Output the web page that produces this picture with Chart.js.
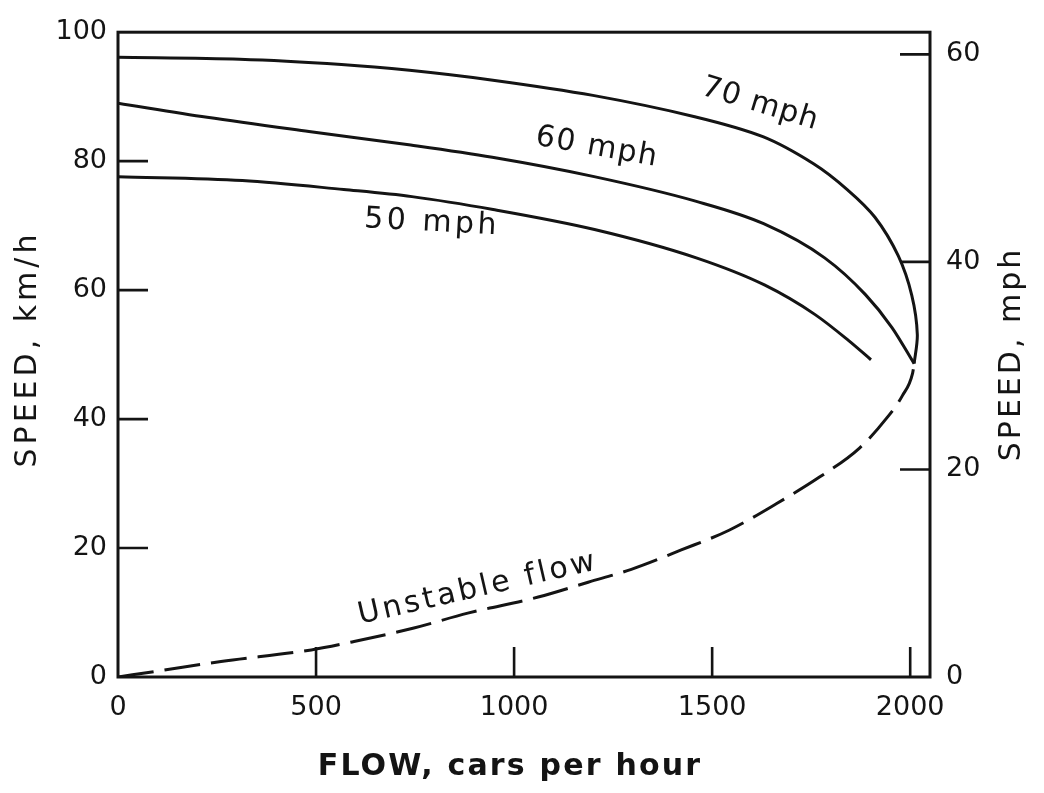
<!DOCTYPE html>
<html>
<head>
<meta charset="utf-8">
<script src="https://cdn.jsdelivr.net/npm/chart.js@4.4.0/dist/chart.umd.min.js"></script>
<style>
  body { margin: 0; background: #fff; }
  #wrap { width: 1044px; height: 793px; }
</style>
</head>
<body>
<div id="wrap"><canvas id="flow-chart"></canvas></div>
<script>
// speed-flow curves: flow in cars per hour, speed in km/h
let flow70 = [0, 307, 564, 736, 942, 1199, 1456, 1628, 1756, 1841, 1911, 1970, 2004, 2018, 2010];
let speed70 = [96.1, 95.8, 95.0, 94.1, 92.6, 90.2, 86.9, 83.8, 79.6, 75.6, 71.3, 65.3, 59.2, 53.1, 48.6];

let flow60 = [0, 225, 482, 739, 945, 1202, 1458, 1630, 1784, 1887, 1954, 2010];
let speed60 = [89.0, 86.8, 84.6, 82.5, 80.6, 77.6, 73.8, 70.3, 65.0, 59.3, 54.2, 48.6];

let flow50 = [0, 314, 570, 742, 947, 1203, 1460, 1632, 1760, 1844, 1901];
let speed50 = [77.6, 77.0, 75.6, 74.5, 72.5, 69.4, 65.0, 60.8, 56.2, 52.2, 49.2];

let flowUnstable = [0, 109, 260, 488, 596, 747, 883, 1061, 1187, 1296, 1422, 1544, 1663, 1771, 1872, 1940, 1980, 2006, 2010];
let speedUnstable = [0, 1.0, 2.4, 4.2, 5.5, 7.6, 9.9, 12.4, 14.7, 16.7, 19.7, 22.8, 26.9, 31.0, 35.5, 40.1, 43.6, 47.1, 48.6];

let flowTicks = [0, 500, 1000, 1500, 2000];
let kmhTicks = [0, 20, 40, 60, 80, 100];
let mphTicks = [0, 20, 40, 60];

const KMH_PER_MPH = 1.609344;
const ink = "#141414";
const font = "'DejaVu Sans', sans-serif";

function pts(xs, ys) {
  return xs.map((x, i) => ({ x: x, y: ys[i] }));
}

function curve(label, xs, ys, extra) {
  return Object.assign({
    label: label,
    data: pts(xs, ys),
    borderColor: ink,
    borderWidth: 3,
    pointRadius: 0,
    cubicInterpolationMode: "monotone",
    fill: false,
  }, extra || {});
}

// curve labels, placed in data units (flow, km/h) and rotated in degrees
let curveNotes = [
  { text: "70 mph", f: 1621, v: 88.8, rot: 17, spacing: 1 },
  { text: "60 mph", f: 1209, v: 82.1, rot: 10, spacing: 1.5 },
  { text: "50 mph", f: 793, v: 70.4, rot: 3, spacing: 3.5 },
  { text: "Unstable flow", f: 909, v: 13.7, rot: -13, spacing: 3.2 },
];

let frameAndTicks = {
  id: "frameAndTicks",
  afterDatasetsDraw(chart) {
    const { ctx, chartArea: a, scales } = chart;
    ctx.save();
    ctx.strokeStyle = ink;
    ctx.lineWidth = 3;
    ctx.strokeRect(a.left, a.top, a.right - a.left, a.bottom - a.top);

    // tick marks point into the plot
    const len = 30;
    ctx.lineWidth = 2.6;
    ctx.beginPath();
    for (let t of scales.x.ticks) {
      if (t.value <= 0) continue;
      let px = scales.x.getPixelForValue(t.value);
      ctx.moveTo(px, a.bottom);
      ctx.lineTo(px, a.bottom - len);
    }
    for (let t of scales.y.ticks) {
      if (t.value <= 0 || t.value >= 100) continue;
      let py = scales.y.getPixelForValue(t.value);
      ctx.moveTo(a.left, py);
      ctx.lineTo(a.left + len, py);
    }
    for (let t of scales.y2.ticks) {
      if (t.value <= 0) continue;
      let py = scales.y2.getPixelForValue(t.value);
      ctx.moveTo(a.right, py);
      ctx.lineTo(a.right - len, py);
    }
    ctx.stroke();
    ctx.restore();
  },
  afterDraw(chart) {
    const { ctx, scales } = chart;
    ctx.save();
    ctx.fillStyle = ink;
    ctx.textAlign = "center";
    ctx.textBaseline = "middle";

    // curve labels
    ctx.font = "30px " + font;
    for (let n of curveNotes) {
      let x = scales.x.getPixelForValue(n.f);
      let y = scales.y.getPixelForValue(n.v);
      ctx.save();
      ctx.translate(x, y);
      ctx.rotate((n.rot * Math.PI) / 180);
      ctx.letterSpacing = n.spacing + "px";
      ctx.fillText(n.text, 0, 0);
      ctx.restore();
    }

    // axis titles
    ctx.font = "bold 30px " + font;
    ctx.letterSpacing = "2.2px";
    ctx.fillText("FLOW, cars per hour", 510, 767);

    ctx.font = "30px " + font;
    ctx.save();
    ctx.translate(28, 349);
    ctx.rotate(-Math.PI / 2);
    ctx.letterSpacing = "4px";
    ctx.fillText("SPEED, km/h", 0, 0);
    ctx.restore();

    ctx.save();
    ctx.translate(1012, 354);
    ctx.rotate(-Math.PI / 2);
    ctx.letterSpacing = "3px";
    ctx.fillText("SPEED, mph", 0, 0);
    ctx.restore();

    ctx.restore();
  },
};

let tickFont = { family: font, size: 27 };

let flowChart = new Chart(document.getElementById("flow-chart"), {
  type: "line",
  data: {
    datasets: [
      // this one bends back on itself near capacity, so plain bezier smoothing
      curve("70 mph", flow70, speed70, { cubicInterpolationMode: "default", tension: 0.3 }),
      curve("60 mph", flow60, speed60),
      curve("50 mph", flow50, speed50),
      curve("Unstable flow", flowUnstable, speedUnstable, { borderDash: [36, 11] }),
    ],
  },
  options: {
    responsive: true,
    maintainAspectRatio: false,
    animation: false,
    layout: { padding: { top: 18, left: 0, right: 0, bottom: 0 } },
    plugins: {
      legend: { display: false },
      tooltip: { enabled: false },
    },
    scales: {
      x: {
        type: "linear",
        min: 0,
        max: 2050,
        afterBuildTicks: (s) => { s.ticks = flowTicks.map((v) => ({ value: v })); },
        afterFit: (s) => { s.height = 116; },
        grid: { display: false, drawTicks: false },
        border: { display: false },
        ticks: { font: tickFont, color: ink, padding: 15, maxRotation: 0, callback: (v) => String(v) },
      },
      y: {
        position: "left",
        min: 0,
        max: 100,
        afterBuildTicks: (s) => { s.ticks = kmhTicks.map((v) => ({ value: v })); },
        afterFit: (s) => { s.width = 118; },
        grid: { display: false, drawTicks: false },
        border: { display: false },
        ticks: { font: tickFont, color: ink, padding: 11, callback: (v) => String(v) },
      },
      y2: {
        position: "right",
        min: 0,
        max: 100 / KMH_PER_MPH,
        afterBuildTicks: (s) => { s.ticks = mphTicks.map((v) => ({ value: v })); },
        afterFit: (s) => { s.width = 114; },
        grid: { display: false, drawTicks: false },
        border: { display: false },
        ticks: { font: tickFont, color: ink, padding: 16, callback: (v) => String(v) },
      },
    },
  },
  plugins: [frameAndTicks],
});
</script>
</body>
</html>
